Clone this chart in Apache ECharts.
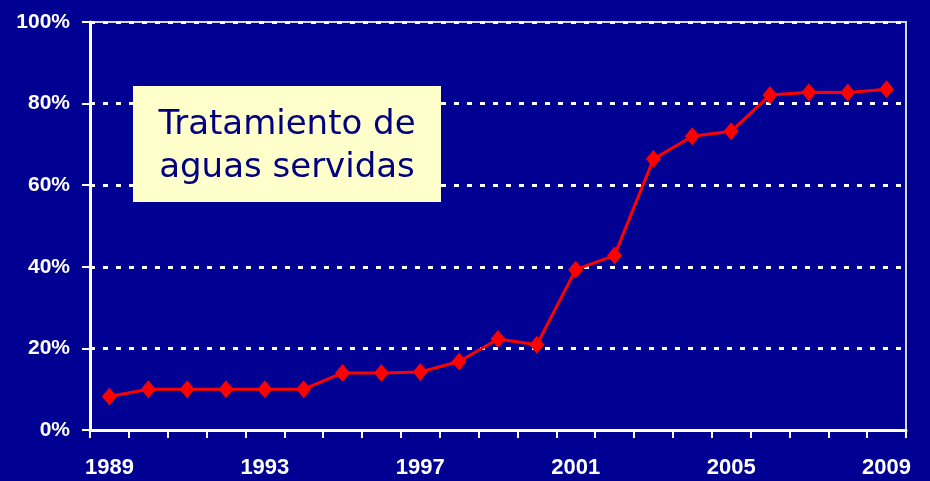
<!DOCTYPE html>
<html><head><meta charset="utf-8">
<script src="https://cdn.jsdelivr.net/npm/echarts@6/dist/echarts.min.js"></script>
<style>html,body{margin:0;padding:0;background:#000092;}#c{width:930px;height:481px;}</style>
</head><body><div id="c"></div>
<script>
const years = ['1989','1990','1991','1992','1993','1994','1995','1996','1997','1998','1999','2000','2001','2002','2003','2004','2005','2006','2007','2008','2009'];
const treatedPct = [8.2,10,10,10,10,10,14,14,14.2,16.8,22.3,20.9,39.3,42.8,66.4,72,73.2,82.1,82.8,82.7,83.5];
const yTicks = [0,20,40,60,80,100];
const boxLines = ['Tratamiento de','aguas servidas'];

const chart = echarts.init(document.getElementById('c'));
chart.setOption({
  backgroundColor:'#000092',
  animation:false,
  grid:{left:90,right:24,top:22,bottom:51,show:true,borderColor:'#d8d8e0',borderWidth:2,backgroundColor:'transparent'},
  xAxis:{type:'category',data:years,boundaryGap:true,
    axisLine:{lineStyle:{color:'#ffffff',width:3}},
    axisTick:{show:true,interval:0,length:8,lineStyle:{color:'#ffffff',width:2}},
    axisLabel:{interval:3,color:'#ffffff',fontFamily:'Liberation Sans, Arial, sans-serif',fontWeight:'bold',fontSize:22,margin:27},
    splitLine:{show:false}},
  yAxis:{type:'value',min:0,max:100,interval:20,
    axisLine:{show:true,lineStyle:{color:'#ffffff',width:3}},
    axisTick:{show:true,length:8,lineStyle:{color:'#ffffff',width:2}},
    axisLabel:{color:'#ffffff',fontFamily:'Liberation Sans, Arial, sans-serif',fontWeight:'bold',fontSize:21,margin:20,
      formatter:v=>yTicks.includes(v)?v+'%':''},
    splitLine:{show:true,lineStyle:{color:'#ffffff',width:3,type:[5,8]}}},
  series:[{type:'line',data:treatedPct,symbol:'diamond',symbolSize:[15,18],
    lineStyle:{color:'#ff0000',width:3},itemStyle:{color:'#ff0000'}}],
  graphic:[
    {type:'rect',left:133,top:86,shape:{width:308,height:116},style:{fill:'#ffffcc'},z:10},
    {type:'text',x:287,y:125,style:{text:boxLines[0],fill:'#000080',font:'34px "DejaVu Sans", sans-serif',textAlign:'center',textVerticalAlign:'middle'},z:11},
    {type:'text',x:287,y:168,style:{text:boxLines[1],fill:'#000080',font:'34px "DejaVu Sans", sans-serif',textAlign:'center',textVerticalAlign:'middle'},z:11}
  ]
});
</script></body></html>
